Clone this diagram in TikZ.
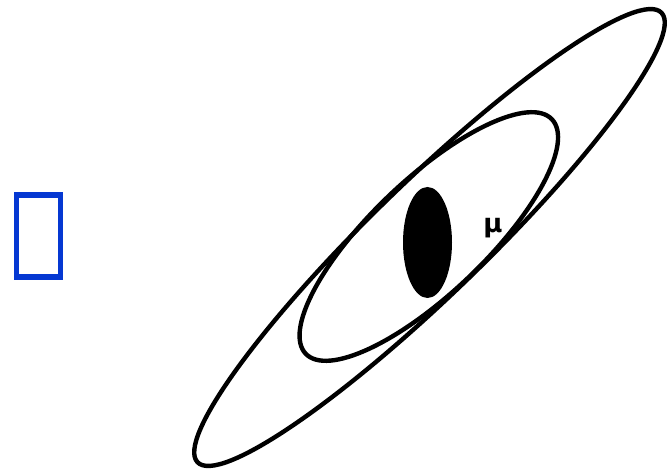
\documentclass[tikz,border=0pt]{standalone}
\usepackage{fontspec}
\newfontfamily\dejavu{DejaVu Sans}
\definecolor{tofublue}{RGB}{5,56,210}
\begin{document}
\begin{tikzpicture}[x=1pt,y=1pt,
  ring/.style={draw=black,line width=4.4pt},
  core/.style={fill=black},
  glyphbox/.style={draw=tofublue,line width=5.3pt}]
\useasboundingbox (0,0) rectangle (670,472);
% missing-glyph box
\draw[glyphbox] (16.7,195) rectangle (60.7,277);
% outer ellipse
\draw[ring,rotate around={44.1:(429.5,234.5)}] (429.5,234.5) ellipse [x radius=323, y radius=56.5];
% inner ellipse
\draw[ring,rotate around={43.6:(428.8,235.5)}] (428.8,235.5) ellipse [x radius=170, y radius=57];
% filled core
\fill[core] (427.5,229.5) ellipse [x radius=24.5, y radius=55.5];
\node[inner sep=0pt,font={\dejavu\bfseries\fontsize{26}{26}\selectfont}] (mu) at (493,244) {μ};
\end{tikzpicture}
\end{document}
